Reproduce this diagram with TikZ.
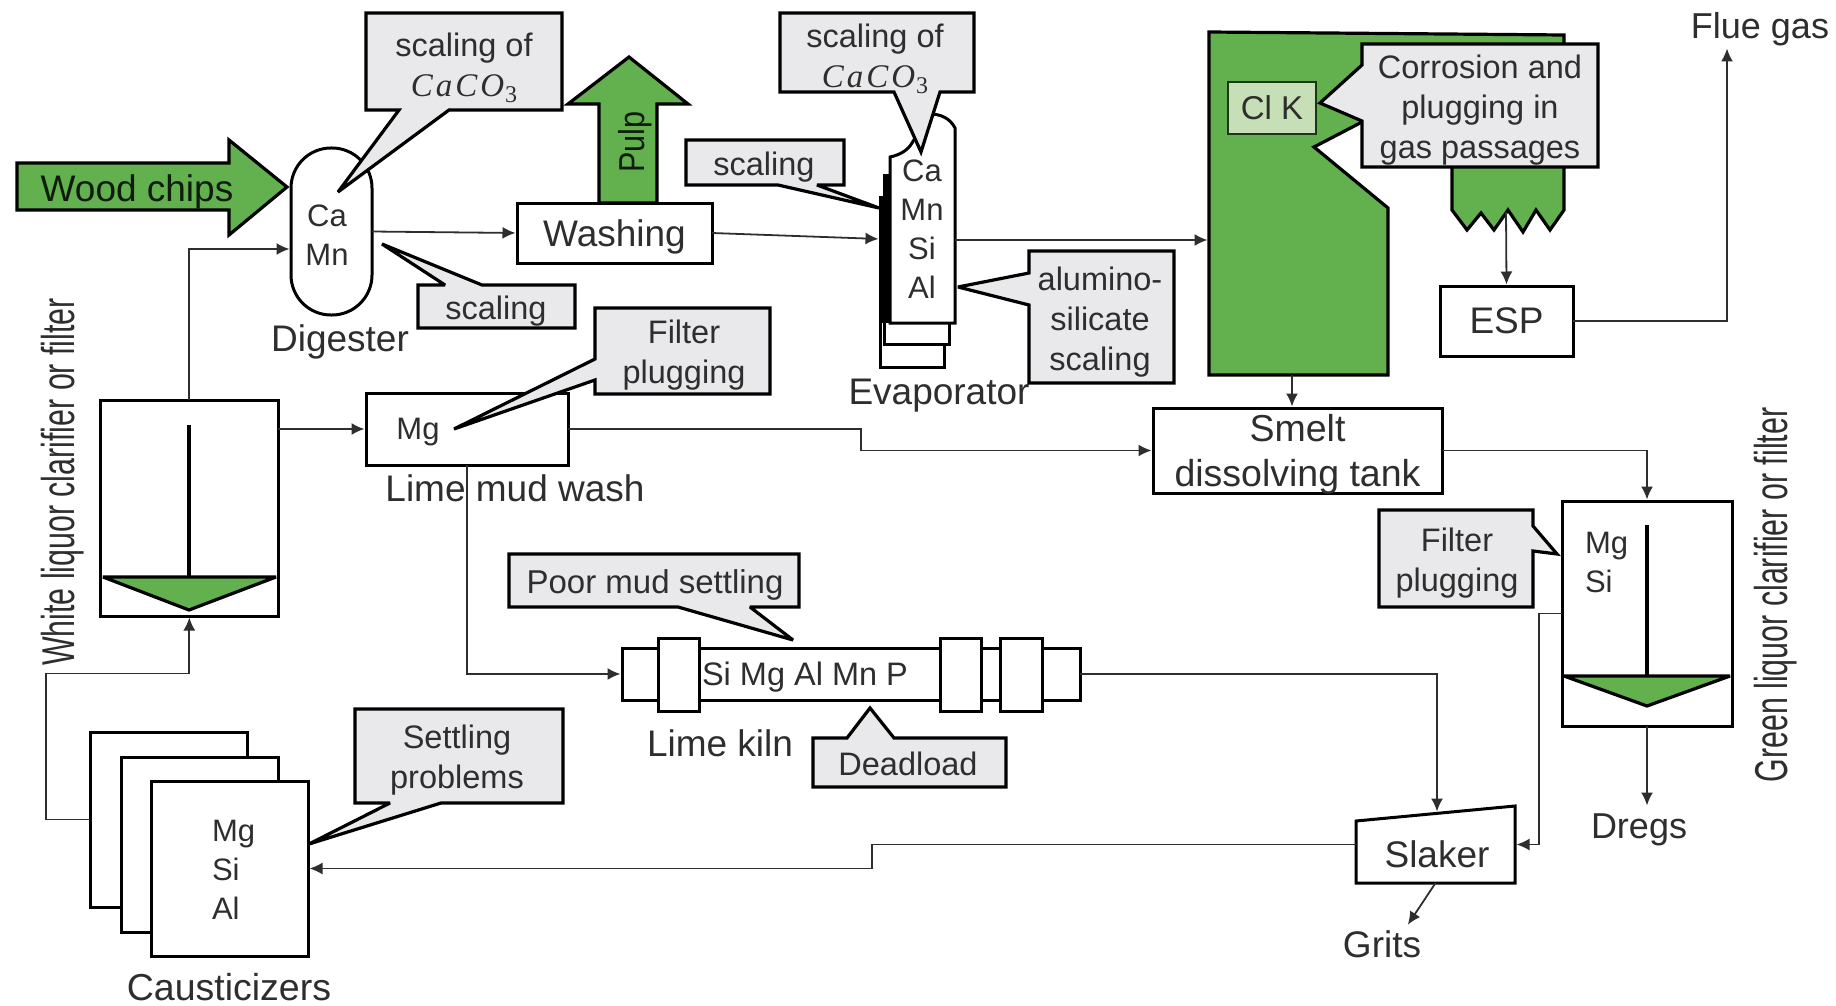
\documentclass[tikz,border=0pt]{standalone}
\usepackage{fontspec}
\usepackage{graphicx}
\setmainfont{Liberation Sans}
\newfontfamily\mathlike{Liberation Serif}
\usetikzlibrary{arrows.meta}
\definecolor{pgreen}{HTML}{62B04E}
\definecolor{lgreen}{HTML}{C6DFB6}
\definecolor{cgray}{HTML}{E9E9EC}
\definecolor{ink}{HTML}{2E2E2E}
\newcommand\fs[2]{\fontsize{#1}{#2}\selectfont}
\newcommand\caco{{\mathlike\itshape\fs{33}{40}C\kern3pt a\kern3pt C\kern3pt O\raisebox{-6pt}{\kern1pt\upshape\fs{24}{24}3}}}
\tikzset{
  box/.style={draw=black,line width=3pt,fill=white,inner sep=0pt,outer sep=0pt,align=center,text=ink,text depth=0pt,font=\fs{37}{44}},
  ghost/.style={inner sep=0pt,outer sep=0pt},
  callout/.style={draw=black,line width=3.2pt,fill=cgray,line join=miter,miter limit=3},
  greenf/.style={draw=black,line width=3.2pt,fill=pgreen,line join=miter},
  settle/.style={draw=black,line width=3.2pt,fill=pgreen,line join=bevel},
  lab/.style={inner sep=0pt,outer sep=0pt,align=center,text=ink,font=\fs{37}{44}},
  ctext/.style={inner sep=0pt,outer sep=0pt,align=center,text=ink,font=\fs{32.5}{40}},
  elem/.style={inner sep=0pt,outer sep=0pt,align=center,text=ink,font=\fs{31}{39}},
  conn/.style={draw=ink,line width=1.8pt,-{Latex[length=13pt,width=12pt]},shorten >=1.5pt},
  bar/.style={draw=black,line width=4.2pt},
}
\begin{document}
\begin{tikzpicture}[x=1pt,y=-1pt]
\useasboundingbox (0,0) rectangle (1836,1006);
\fill[white] (0,0) rectangle (1836,1006);

% Wood chips arrow
\draw[greenf] (17,163) -- (229,163) -- (229,140) -- (287,187) -- (229,235) -- (229,210) -- (17,210) -- cycle;
\node[lab,text=black!85!pgreen] (woodchips) at (137,192) {Wood chips};

% Pulp arrow
\draw[greenf] (599,203) -- (599,104) -- (568,104) -- (629,57) -- (688,104) -- (657,104) -- (657,203) -- cycle;
\node[lab,rotate=90,text=black!85!pgreen] (pulp) at (635,142) {\scalebox{.85}[1]{\fs{36}{36}Pulp}};

% Digester
\node[box,rounded corners=40pt,minimum width=81pt,minimum height=167pt] (digester) at (331.5,231.5) {};
\node[elem] (digtext) at (327,235) {Ca\\Mn};
\node[lab] (diglabel) at (340,342) {Digester};

% Washing
\node[box,minimum width=195pt,minimum height=60pt] (wash) at (614.5,233) {Washing};

% Evaporator
\node[box,minimum width=64pt,minimum height=170pt] (evap3) at (912,282) {};
\node[box,minimum width=65pt,minimum height=169pt] (evap2) at (916.5,259.5) {};
\fill[black] (881,197) rectangle (890,323);
\fill[black] (884,175) rectangle (890,197);
\draw[draw=black,line width=3pt,fill=white] (890,323) -- (890,157) .. controls (900,155) and (908,150) .. (912,143) -- (920,130) -- (930,114) .. controls (940,114) and (950,118) .. (955,128) -- (955,323) -- cycle;
\node[elem] (evaptext) at (922,229) {Ca\\Mn\\Si\\Al};
\node[lab] (evaplabel) at (939,396) {Evaporator};
\coordinate (evapout) at (955,240);

% Boiler
\draw[greenf] (1209,32) -- (1564,35) -- (1564,210) -- (1550,230) -- (1536,210) -- (1523,232) -- (1508,210) -- (1494,230) -- (1481,213) -- (1467,230) -- (1452,210) -- (1452,160) -- (1362,122) -- (1314,147) -- (1388,208) -- (1388,375) -- (1209,375) -- cycle;
\node[draw=black!70!pgreen,line width=1.5pt,fill=lgreen,inner sep=0pt,minimum width=88pt,minimum height=52pt,text=ink,font=\fs{33}{33}] (clk) at (1272,108) {\raisebox{-2pt}{Cl K}};
\coordinate (boilerin) at (1209,240);
\coordinate (boilerout) at (1506,212);
\coordinate (boilerbot) at (1292,375);

% ESP
\node[box,minimum width=133pt,minimum height=70pt] (esp) at (1506.5,321) {ESP};
\node[lab,font=\fs{36}{36}] (flue) at (1760,29) {Flue gas};
\coordinate (fluetop) at (1727,47);

% Smelt
\node[box,minimum width=289pt,minimum height=85pt,font=\fs{37.5}{45}] (smelt) at (1297.5,450.5) {Smelt\\dissolving tank};

% White liquor clarifier
\node[box,minimum width=177.5pt,minimum height=216pt] (wc) at (189.3,508) {};
\draw[settle] (103,577) -- (276,577) -- (189,610) -- cycle;
\draw[bar] (189,425) -- (189,577);
\node[lab,rotate=90] (wclabel) at (63,482) {\scalebox{.66}[1]{\fs{46}{46}White liquor clarifier or filter}};

% Lime mud wash
\node[box,minimum width=202pt,minimum height=72pt] (lmw) at (467,429) {};
\node[elem] (lmwtext) at (418,432) {Mg};
\node[lab] (lmwlabel) at (515,488) {Lime mud wash};

% Green liquor clarifier
\node[box,minimum width=170pt,minimum height=225pt] (gc) at (1647,613.5) {};
\draw[settle] (1564,676) -- (1730,676) -- (1647,706) -- cycle;
\draw[bar] (1647,525) -- (1647,676);
\node[elem,align=left,anchor=west] (gctext) at (1585,562) {Mg\\Si};
\node[lab,rotate=90] (gclabel) at (1776,595) {\scalebox{.66}[1]{\fs{46}{46}Green liquor clarifier or filter}};

% Lime kiln
\node[box,minimum width=458pt,minimum height=52pt] (kiln) at (851,674) {};
\node[box,minimum width=41pt,minimum height=73pt] (ring1) at (679,674.5) {};
\node[box,minimum width=41pt,minimum height=73pt] (ring2) at (960.5,674.5) {};
\node[box,minimum width=42pt,minimum height=73pt] (ring3) at (1021,674.5) {};
\node[elem,font=\fs{32.5}{32.5}] (kilntext) at (805,677) {Si Mg Al Mn P};
\node[lab] (kilnlabel) at (720,743) {Lime kiln};

% Causticizers
\node[box,minimum width=157pt,minimum height=175pt] (caust3) at (168.5,819.5) {};
\node[box,minimum width=157pt,minimum height=175pt] (caust2) at (199.5,844.5) {};
\node[box,minimum width=157pt,minimum height=175pt] (caust1) at (229.5,868.5) {};
\node[elem,align=left,anchor=west] (causttext) at (212,870) {Mg\\Si\\Al};
\node[lab,font=\fs{37.5}{37.5}] (caustlabel) at (229,987) {Causticizers};

% Slaker
\draw[draw=black,line width=3pt,fill=white] (1356,821) -- (1515,806) -- (1515,883) -- (1356,883) -- cycle;
\node[ghost,minimum width=159pt,minimum height=77pt] (slaker) at (1435.5,844.5) {};
\node[lab] (slakertext) at (1437,854) {Slaker};
\coordinate (slakertop) at (1437,813);
\node[lab,font=\fs{36}{36}] (dregs) at (1639,830) {Dregs};
\coordinate (dregsend) at (1647,807);
\node[lab,font=\fs{37}{37}] (grits) at (1382,944) {Grits};
\coordinate (gritsend) at (1407,926);

% Connectors
\draw[conn] (digester.east) -- (wash.west);
\draw[conn] (wc.north) |- (digester.west |- 0,249);
\draw[conn] (wash.east) -- (evap3.west |- 0,239);
\draw[conn] (evapout) -- (boilerin);
\draw[conn] (boilerout) -- (esp.north);
\draw[conn] (esp.east) -| (fluetop);
\draw[conn] (boilerbot) -- (boilerbot |- smelt.north);
\draw[conn] (wc.east |- lmw.west) -- (lmw.west);
\draw[conn] (lmw.east) -- ++(293,0) |- (smelt.west);
\draw[conn] (smelt.east) -| (gc.north);
\draw[conn] (lmw.south) |- (kiln.west);
\draw[conn] (kiln.east) -| (slakertop);
\draw[conn] (gc.west) -- ++(-23,0) |- (slaker.east);
\draw[conn] (gc.south) -- (dregsend);
\draw[conn] (slaker.south) -- (gritsend);
\draw[conn] (slaker.west) -- ++(-484,0) |- (caust1.east);
\draw[conn] (caust3.west) -- ++(-44,0) -- ++(0,-146) -| (wc.south);

% Callouts
\draw[callout] (366,13) -- (562,13) -- (562,110) -- (449,110) -- (338,192) -- (399,110) -- (366,110) -- cycle;
\node[ctext] (c1) at (464,68) {scaling of\\\caco};

\draw[callout] (418,285) -- (445,285) -- (382,244) -- (482,285) -- (575,285) -- (575,328) -- (418,328) -- cycle;
\node[ctext] (c2) at (496,311) {scaling};

\draw[callout] (780,13) -- (974,13) -- (974,92) -- (940,92) -- (921,152) -- (894,92) -- (780,92) -- cycle;
\node[ctext] (c3) at (875,59) {scaling of\\\caco};

\draw[callout] (686,140) -- (844,140) -- (844,185) -- (817,185) -- (879,208) -- (778,185) -- (686,185) -- cycle;
\node[ctext] (c4) at (764,167) {scaling};

\draw[callout] (1029,251) -- (1174,251) -- (1174,383) -- (1029,383) -- (1029,305) -- (958,287) -- (1029,273) -- cycle;
\node[ctext] (c5) at (1100,322) {alumino-\\silicate\\scaling};

\draw[callout] (1362,44) -- (1598,44) -- (1598,167) -- (1362,167) -- (1362,121) -- (1320,103) -- (1362,65) -- cycle;
\node[ctext] (c6) at (1480,110) {Corrosion and\\plugging in\\gas passages};

\draw[callout] (595,308) -- (770,308) -- (770,394) -- (595,394) -- (595,380) -- (454,429) -- (595,359) -- cycle;
\node[ctext] (c7) at (684,355) {Filter\\plugging};

\draw[callout] (1379,510) -- (1533,510) -- (1533,526) -- (1557,554) -- (1533,551) -- (1533,607) -- (1379,607) -- cycle;
\node[ctext] (c8) at (1457,563) {Filter\\plugging};

\draw[callout] (509,554) -- (799,554) -- (799,607) -- (750,607) -- (793,640) -- (678,607) -- (509,607) -- cycle;
\node[ctext,font=\fs{33}{40}] (c9) at (655,585) {Poor mud settling};

\draw[callout] (813,738) -- (847,738) -- (870,708) -- (894,738) -- (1006,738) -- (1006,787) -- (813,787) -- cycle;
\node[ctext] (c10) at (908,764) {Deadload};

\draw[callout] (355,709) -- (563,709) -- (563,803) -- (441,803) -- (309,844) -- (390,803) -- (355,803) -- cycle;
\node[ctext] (c11) at (457,760) {Settling\\problems};
\end{tikzpicture}
\end{document}
